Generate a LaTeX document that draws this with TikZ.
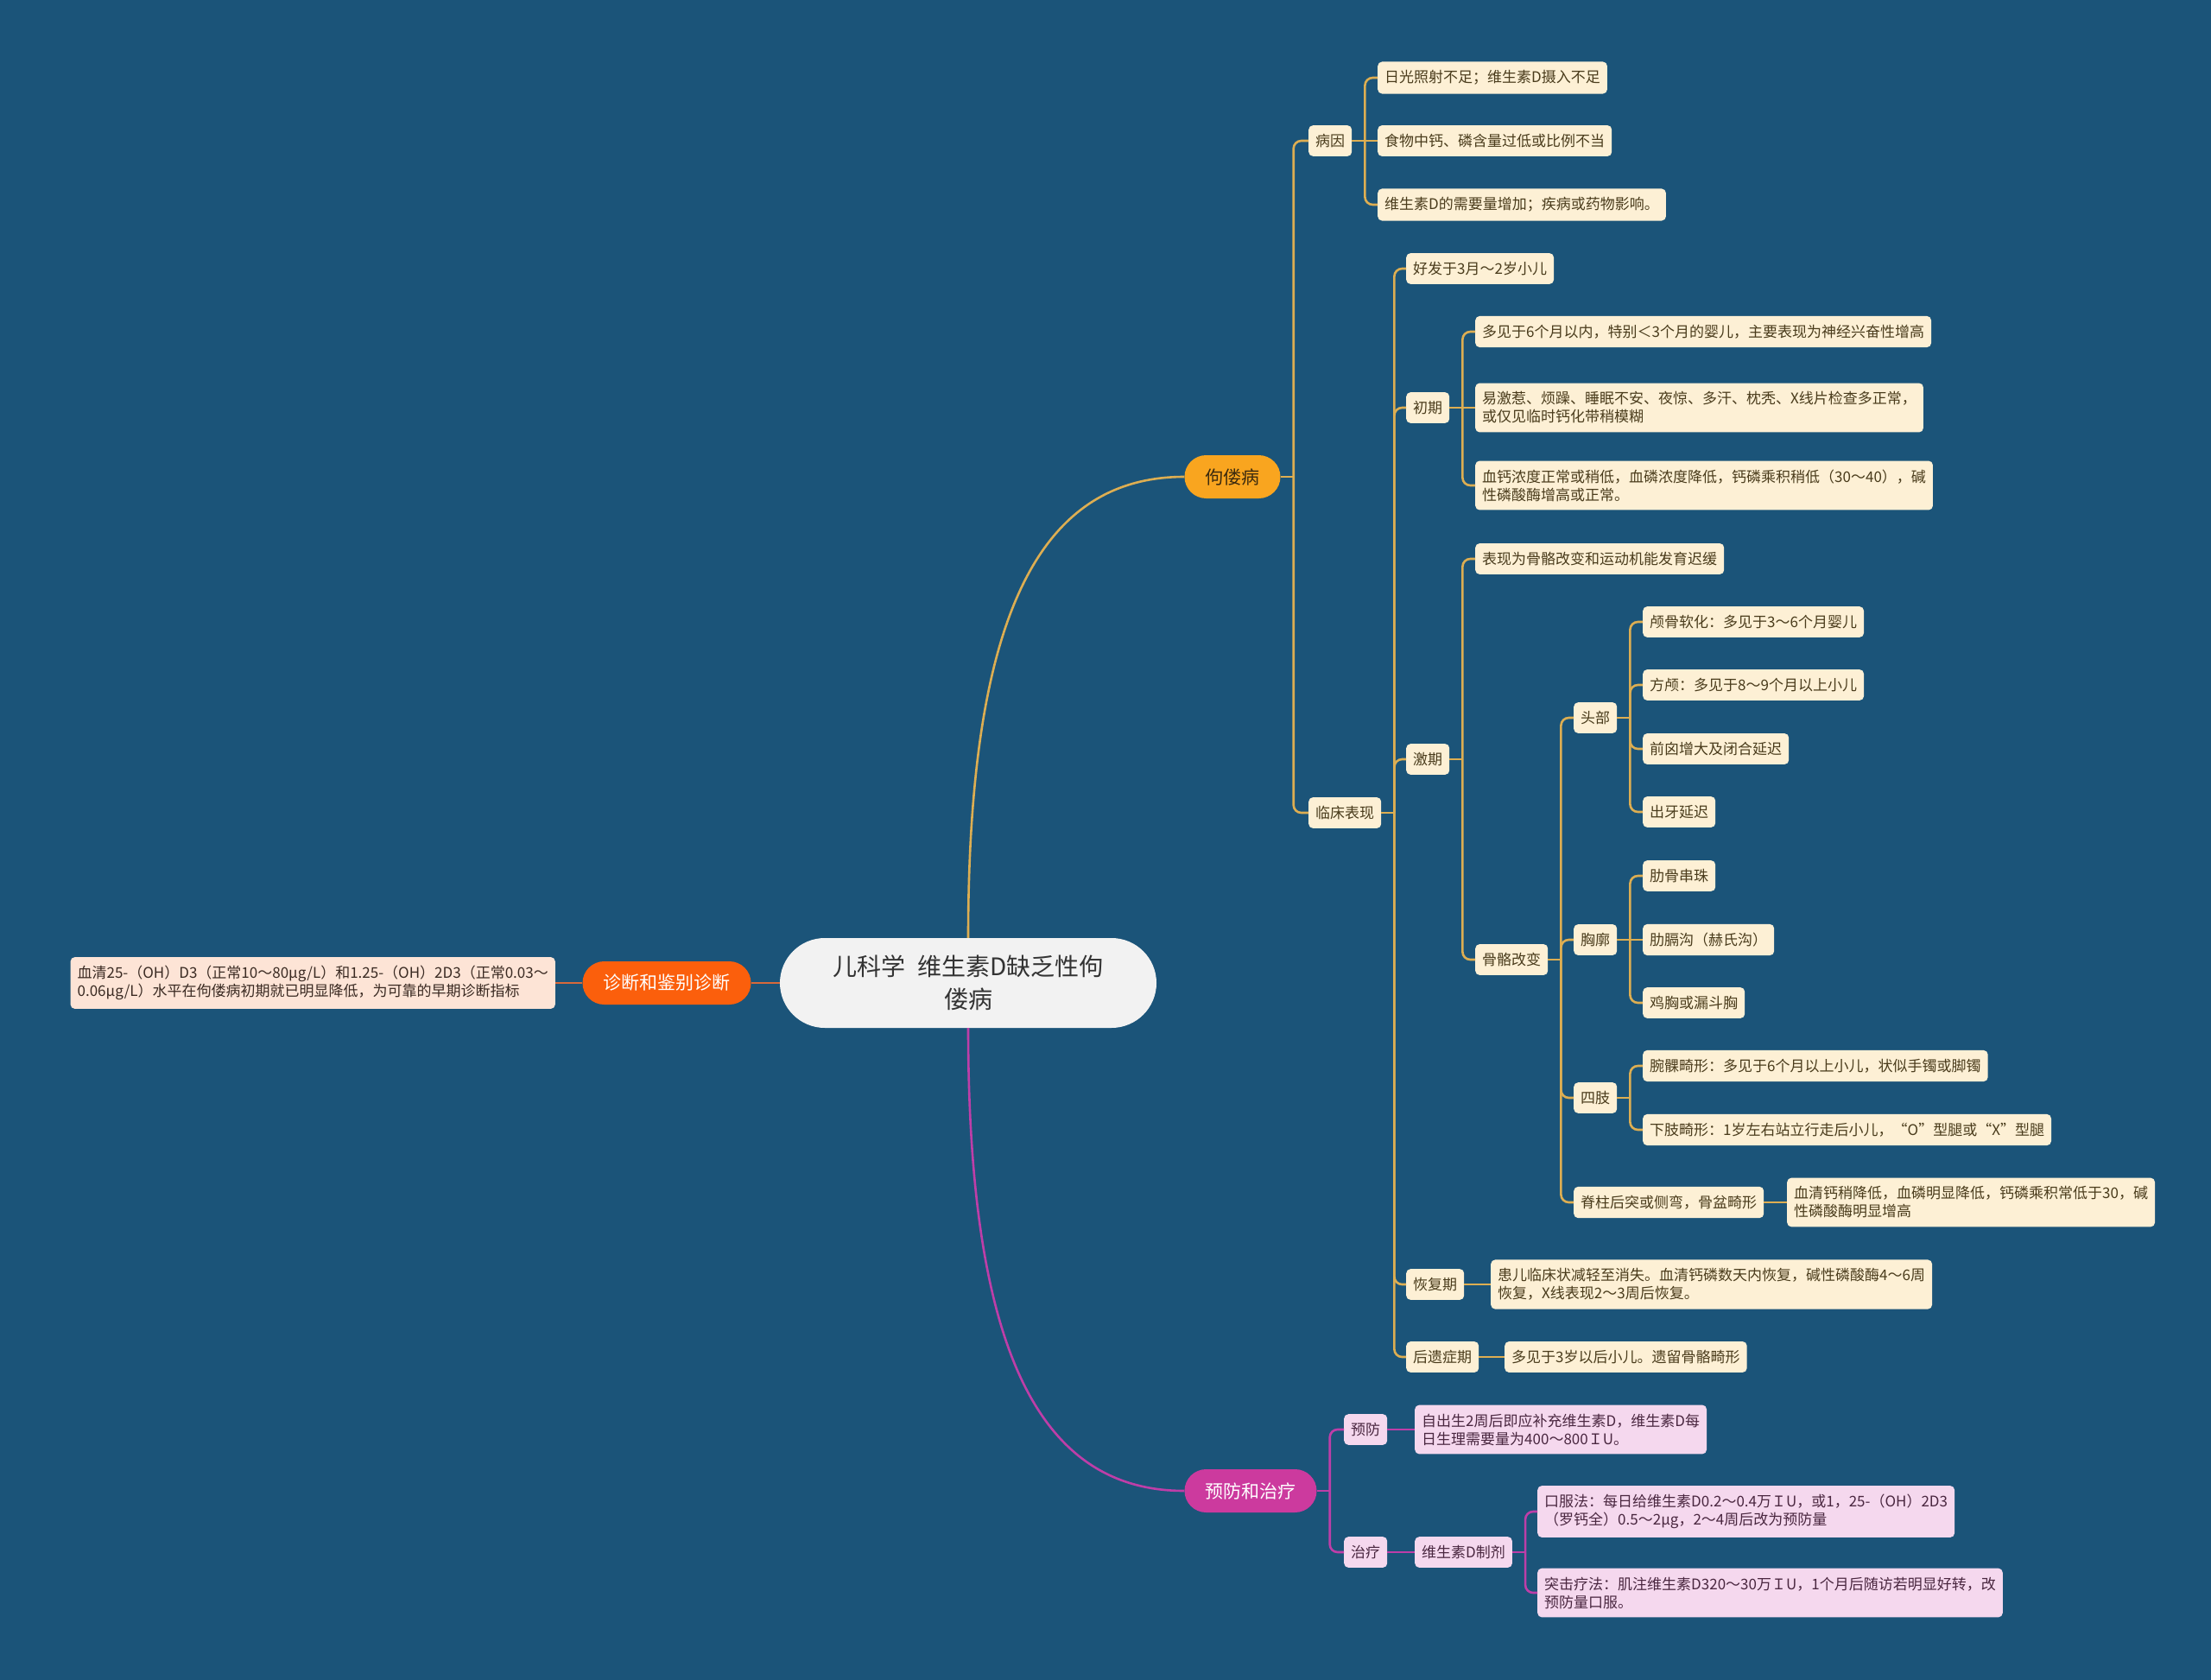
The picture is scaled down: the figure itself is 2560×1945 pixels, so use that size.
\documentclass[tikz,border=0pt]{standalone}
\usepackage{fontspec}
\setmainfont{Noto Sans CJK SC}
\definecolor{bgblue}{HTML}{1B5479}
\definecolor{goldline}{HTML}{DDAE52}
\definecolor{goldcell}{HTML}{FDF0D5}
\definecolor{goldink}{HTML}{4A3C1C}
\definecolor{pinkline}{HTML}{BE3EA8}
\definecolor{pinkcell}{HTML}{F5D8EE}
\definecolor{pinkink}{HTML}{4A2740}
\definecolor{redline}{HTML}{D8693A}
\definecolor{peachcell}{HTML}{FDE4D6}
\definecolor{peachink}{HTML}{3A2A22}
\definecolor{rickorange}{HTML}{F9A51F}
\definecolor{rickink}{HTML}{3B2A0E}
\definecolor{diagorange}{HTML}{FB5F0C}
\definecolor{prevpink}{HTML}{CC3A9E}
\definecolor{rootgray}{HTML}{F2F2F2}
\definecolor{rootink}{HTML}{333333}
\tikzset{
  gold link/.style={draw=goldline, line width=2.6pt, rounded corners=9pt},
  pink link/.style={draw=pinkline, line width=2.6pt, rounded corners=9pt},
  red link/.style={draw=redline, line width=2.6pt},
  cell/.style={rounded corners=5pt, inner xsep=8pt, inner ysep=10pt, align=left, anchor=west,
    font=\fontsize{17}{21}\selectfont},
  gold cell/.style={cell, fill=goldcell, text=goldink},
  pink cell/.style={cell, fill=pinkcell, text=pinkink},
  peach cell/.style={cell, fill=peachcell, text=peachink},
  topic/.style={rounded corners=25pt, minimum height=50pt, inner xsep=24pt, inner ysep=4pt,
    font=\fontsize{21}{25}\selectfont},
  root topic/.style={rounded corners=52pt, minimum width=436pt, minimum height=104pt,
    fill=rootgray, text=rootink, align=center, font=\fontsize{28}{38}\selectfont},
}

\begin{document}
\begin{tikzpicture}[x=1pt, y=-1pt]
  \useasboundingbox (0,0) rectangle (2560,1945);
  \fill[bgblue] (0,0) rectangle (2560,1945);

  % centre and first level
  \node[root topic] (root) at (1121,1138) {儿科学\hspace{14pt}维生素D缺乏性佝\\偻病};
  \node[topic, fill=rickorange, text=rickink] (rickets) at (1427,552) {佝偻病};
  \node[topic, fill=diagorange, text=white] (diag) at (772,1138) {诊断和鉴别诊断};
  \node[topic, fill=prevpink, text=white] (prev) at (1448,1726) {预防和治疗};

  % 诊断
  \node[peach cell, anchor=east] (dx) at (643,1138)
    {血清25-（OH）D3（正常10～80μg/L）和1.25-（OH）2D3（正常0.03～\\0.06μg/L）水平在佝偻病初期就已明显降低，为可靠的早期诊断指标};

  % 病因
  \node[gold cell] (cause) at (1515,163) {病因};
  \node[gold cell] (c1) at (1595,90)  {日光照射不足；维生素D摄入不足};
  \node[gold cell] (c2) at (1595,163) {食物中钙、磷含量过低或比例不当};
  \node[gold cell] (c3) at (1595,237) {维生素D的需要量增加；疾病或药物影响。};

  % 临床表现
  \node[gold cell] (clinic) at (1515,941) {临床表现};
  \node[gold cell] (onset) at (1628,311) {好发于3月～2岁小儿};
  \node[gold cell] (early) at (1628,472) {初期};
  \node[gold cell] (e1) at (1708,384) {多见于6个月以内，特别＜3个月的婴儿，主要表现为神经兴奋性增高};
  \node[gold cell] (e2) at (1708,472) {易激惹、烦躁、睡眠不安、夜惊、多汗、枕秃、X线片检查多正常，\\或仅见临时钙化带稍模糊};
  \node[gold cell] (e3) at (1708,562) {血钙浓度正常或稍低，血磷浓度降低，钙磷乘积稍低（30～40），碱\\性磷酸酶增高或正常。};
  \node[gold cell] (peak) at (1628,879) {激期};
  \node[gold cell] (p1) at (1708,647) {表现为骨骼改变和运动机能发育迟缓};
  \node[gold cell] (bone) at (1708,1111) {骨骼改变};
  \node[gold cell] (head) at (1822,831) {头部};
  \node[gold cell] (h1) at (1902,720) {颅骨软化：多见于3～6个月婴儿};
  \node[gold cell] (h2) at (1902,793) {方颅：多见于8～9个月以上小儿};
  \node[gold cell] (h3) at (1902,867) {前囟增大及闭合延迟};
  \node[gold cell] (h4) at (1902,940) {出牙延迟};
  \node[gold cell] (chest) at (1822,1088) {胸廓};
  \node[gold cell] (t1) at (1902,1014) {肋骨串珠};
  \node[gold cell] (t2) at (1902,1088) {肋膈沟（赫氏沟）};
  \node[gold cell] (t3) at (1902,1161) {鸡胸或漏斗胸};
  \node[gold cell] (limb) at (1822,1271) {四肢};
  \node[gold cell] (l1) at (1902,1234) {腕髁畸形：多见于6个月以上小儿，状似手镯或脚镯};
  \node[gold cell] (l2) at (1902,1308) {下肢畸形：1岁左右站立行走后小儿，“O”型腿或“X”型腿};
  \node[gold cell] (spine) at (1822,1392) {脊柱后突或侧弯，骨盆畸形};
  \node[gold cell] (s1) at (2069,1392) {血清钙稍降低，血磷明显降低，钙磷乘积常低于30，碱\\性磷酸酶明显增高};
  \node[gold cell] (recov) at (1628,1487) {恢复期};
  \node[gold cell] (r1) at (1726,1487) {患儿临床状减轻至消失。血清钙磷数天内恢复，碱性磷酸酶4～6周\\恢复，X线表现2～3周后恢复。};
  \node[gold cell] (late) at (1628,1571) {后遗症期};
  \node[gold cell] (a1) at (1742,1571) {多见于3岁以后小儿。遗留骨骼畸形};

  % 预防和治疗
  \node[pink cell] (guard) at (1556,1655) {预防};
  \node[pink cell] (g1) at (1638,1655) {自出生2周后即应补充维生素D，维生素D每\\日生理需要量为400～800ＩU。};
  \node[pink cell] (treat) at (1556,1797) {治疗};
  \node[pink cell] (drug) at (1638,1797) {维生素D制剂};
  \node[pink cell] (d1) at (1780,1750) {口服法：每日给维生素D0.2～0.4万ＩU，或1，25-（OH）2D3\\（罗钙全）0.5～2μg，2～4周后改为预防量};
  \node[pink cell] (d2) at (1780,1844) {突击疗法：肌注维生素D320～30万ＩU，1个月后随访若明显好转，改\\预防量口服。};

  % connectors
  \draw[gold link] (root.north) .. controls (1121,720) and (1200,552) .. (rickets.west);
  \draw[pink link] (root.south) .. controls (1121,1556) and (1200,1726) .. (prev.west);
  \draw[red link] (root.west) -- (diag.east);
  \draw[red link] (diag.west) -- (dx.east);
  \foreach \p/\kids in {rickets/{cause,clinic}, cause/{c1,c3},
      clinic/{onset,early,peak,recov,late}, early/{e1,e3}, peak/{p1,bone},
      bone/{head,chest,limb,spine}, head/{h1,h2,h3,h4}, chest/{t1,t3},
      limb/{l1,l2}}{
    \draw[gold link] (\p.east) -- ++(15,0) coordinate (\p-j);
    \foreach \k in \kids {\draw[gold link] (\p-j) |- (\k.west);}
  }
  \foreach \p/\k in {cause/c2, early/e2, chest/t2, spine/s1, recov/r1, late/a1}
    \draw[gold link] (\p.east) -- (\k.west);
  \foreach \p/\kids in {prev/{guard,treat}, drug/{d1,d2}}{
    \draw[pink link] (\p.east) -- ++(15,0) coordinate (\p-j);
    \foreach \k in \kids {\draw[pink link] (\p-j) |- (\k.west);}
  }
  \foreach \p/\k in {guard/g1, treat/drug}
    \draw[pink link] (\p.east) -- (\k.west);
\end{tikzpicture}
\end{document}
